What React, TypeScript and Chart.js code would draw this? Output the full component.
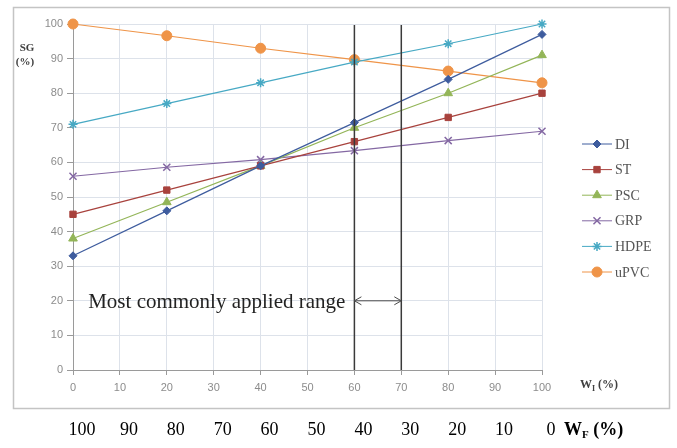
import React, { useEffect, useRef } from 'react';
import { Chart, registerables } from 'chart.js';
import { drawPoint } from 'chart.js/helpers';

Chart.register(...registerables);

const X_VALUES = [0, 20, 40, 60, 80, 100];
const DI = [33, 46, 59, 71.5, 84, 97];
const ST = [45, 52, 59, 66, 73, 80];
const PSC = [38, 48.5, 59, 70, 80, 91];
const GRP = [56, 58.6, 60.8, 63.4, 66.3, 69];
const HDPE = [71, 77, 83, 89, 94.3, 100];
const UPVC = [100, 96.6, 93, 89.7, 86.4, 83];

const SERIES_NAMES = ['DI', 'ST', 'PSC', 'GRP', 'HDPE', 'uPVC'];
const SERIES_VALUES = [DI, ST, PSC, GRP, HDPE, UPVC];
const SERIES_COLORS = ['#3e5c9e', '#a8423d', '#93b558', '#8468a3', '#47a9c4', '#ef9448'];
const POINT_STYLES = ['rectRot', 'rect', 'triangle', 'crossRot', 'star', 'circle'];
const POINT_RADII = [4, 4.5, 5, 5, 4.5, 5];
const POINT_BORDER = [1, 1, 1, 1.5, 1.5, 1];

const WF_LABELS = ['100', '90', '80', '70', '60', '50', '40', '30', '20', '10', '0'];
const RANGE_LINES = [60, 70];
const RANGE_TEXT = 'Most commonly applied range';
const RANGE_Y = 20;
const Y_TITLE = ['SG', '(%)'];
const X_TITLE_MAIN = 'W';
const X_TITLE_SUB = 'I';
const WF_MAIN = 'W';
const WF_SUB = 'F';
const UNIT = ' (%)';

const overlay = {
  id: 'overlay',
  beforeDraw(chart: any) {
    const { ctx, width, height } = chart;
    ctx.save();
    ctx.fillStyle = '#ffffff';
    ctx.fillRect(0, 0, width, height);
    ctx.restore();
  },
  afterDatasetsDraw(chart: any) {
    const { ctx, chartArea } = chart;
    const x = chart.scales.x;
    const y = chart.scales.y;
    ctx.save();
    ctx.strokeStyle = '#3a3a3a';
    ctx.lineWidth = 1.5;
    RANGE_LINES.forEach((v) => {
      const px = x.getPixelForValue(v);
      ctx.beginPath();
      ctx.moveTo(px, chartArea.top + 1);
      ctx.lineTo(px, chartArea.bottom);
      ctx.stroke();
    });
    const ay = y.getPixelForValue(RANGE_Y);
    const a1 = x.getPixelForValue(RANGE_LINES[0]);
    const a2 = x.getPixelForValue(RANGE_LINES[1]);
    ctx.strokeStyle = '#4a4a4a';
    ctx.lineWidth = 1;
    ctx.beginPath();
    ctx.moveTo(a1, ay);
    ctx.lineTo(a2, ay);
    ctx.moveTo(a1 + 7, ay - 4);
    ctx.lineTo(a1, ay);
    ctx.lineTo(a1 + 7, ay + 4);
    ctx.moveTo(a2 - 7, ay - 4);
    ctx.lineTo(a2, ay);
    ctx.lineTo(a2 - 7, ay + 4);
    ctx.stroke();
    ctx.font = '21px "Liberation Serif"';
    ctx.fillStyle = '#222222';
    ctx.textAlign = 'right';
    ctx.textBaseline = 'alphabetic';
    ctx.fillText(RANGE_TEXT, a1 - 9, ay + 7);
    ctx.restore();
  },
  afterDraw(chart: any) {
    const { ctx, chartArea } = chart;
    const x = chart.scales.x;
    ctx.save();
    ctx.strokeStyle = '#c4c4c4';
    ctx.lineWidth = 1.5;
    ctx.strokeRect(13.5, 7.5, 656, 401);

    const lx = chartArea.right + 40;
    chart.data.datasets.forEach((ds: any, i: number) => {
      const ly = 144 + i * 25.6;
      ctx.strokeStyle = ds.borderColor;
      ctx.lineWidth = 1;
      ctx.beginPath();
      ctx.moveTo(lx, ly);
      ctx.lineTo(lx + 30, ly);
      ctx.stroke();
      ctx.fillStyle = ds.backgroundColor;
      ctx.strokeStyle = ds.borderColor;
      ctx.lineWidth = ds.pointBorderWidth;
      drawPoint(ctx, { pointStyle: ds.pointStyle, radius: ds.pointRadius, rotation: 0, borderWidth: ds.pointBorderWidth }, lx + 15, ly);
      ctx.fillStyle = '#555555';
      ctx.font = '14px "Liberation Serif"';
      ctx.textAlign = 'left';
      ctx.textBaseline = 'middle';
      ctx.fillText(ds.label, lx + 33, ly + 1);
    });

    ctx.fillStyle = '#404040';
    ctx.font = 'bold 11px "Liberation Serif"';
    ctx.textAlign = 'center';
    ctx.textBaseline = 'middle';
    ctx.fillText(Y_TITLE[0], 27, 48);
    ctx.fillText(Y_TITLE[1], 25, 62);

    ctx.textAlign = 'left';
    ctx.textBaseline = 'alphabetic';
    let tx = chartArea.right + 38;
    const tb = 388;
    ctx.font = 'bold 12px "Liberation Serif"';
    ctx.fillText(X_TITLE_MAIN, tx, tb);
    tx += ctx.measureText(X_TITLE_MAIN).width;
    ctx.font = 'bold 8px "Liberation Serif"';
    ctx.fillText(X_TITLE_SUB, tx, tb + 3);
    tx += ctx.measureText(X_TITLE_SUB).width;
    ctx.font = 'bold 12px "Liberation Serif"';
    ctx.fillText(UNIT, tx, tb);

    ctx.fillStyle = '#000000';
    ctx.font = '18px "Liberation Serif"';
    ctx.textAlign = 'center';
    const wb = 435;
    WF_LABELS.forEach((lab) => {
      const px = x.getPixelForValue(100 - Number(lab)) + 9;
      ctx.fillText(lab, px, wb);
    });
    ctx.textAlign = 'left';
    let wx = x.getPixelForValue(100) + 9 + 5 + 8;
    ctx.font = 'bold 18px "Liberation Serif"';
    ctx.fillText(WF_MAIN, wx, wb);
    wx += ctx.measureText(WF_MAIN).width;
    ctx.font = 'bold 11px "Liberation Serif"';
    ctx.fillText(WF_SUB, wx, wb + 3);
    wx += ctx.measureText(WF_SUB).width;
    ctx.font = 'bold 18px "Liberation Serif"';
    ctx.fillText(UNIT, wx, wb);
    ctx.restore();
  },
};

export default function App() {
  const ref = useRef<HTMLCanvasElement | null>(null);
  useEffect(() => {
    if (!ref.current) return;
    const datasets = SERIES_NAMES.map((name, i) => ({
      label: name,
      data: X_VALUES.map((xv, j) => ({ x: xv, y: SERIES_VALUES[i][j] })),
      borderColor: SERIES_COLORS[i],
      backgroundColor: SERIES_COLORS[i],
      borderWidth: 1.2,
      pointStyle: POINT_STYLES[i],
      pointRadius: POINT_RADII[i],
      pointBorderWidth: POINT_BORDER[i],
      pointBackgroundColor: SERIES_COLORS[i],
      pointBorderColor: SERIES_COLORS[i],
      fill: false,
      tension: 0,
      clip: false,
    }));
    const tickFont = { family: '"Liberation Sans"', size: 11 };
    const chart = new Chart(ref.current, {
      type: 'line',
      data: { datasets },
      options: {
        animation: false,
        responsive: false,
        maintainAspectRatio: false,
        layout: { padding: { left: 0, right: 135, top: 24, bottom: 0 } },
        plugins: { legend: { display: false }, tooltip: { enabled: false } },
        scales: {
          x: {
            type: 'linear',
            min: 0,
            max: 100,
            ticks: { stepSize: 10, color: '#8c8c8c', font: tickFont, padding: 6 },
            grid: { color: '#dde2ea', tickColor: '#9a9a9a', tickLength: 5 },
            border: { color: '#9a9a9a' },
            afterFit: (s: any) => { s.height = 78; },
          },
          y: {
            type: 'linear',
            min: 0,
            max: 100,
            ticks: { stepSize: 10, color: '#8c8c8c', font: tickFont, padding: 4 },
            grid: { color: '#dde2ea', tickColor: '#9a9a9a', tickLength: 6 },
            border: { color: '#9a9a9a' },
            afterFit: (s: any) => { s.width = 73; },
          },
        },
      } as any,
      plugins: [overlay],
    });
    return () => chart.destroy();
  }, []);
  return (
    <div style={{ position: 'absolute', left: 0, top: 0, width: 677, height: 448, background: '#fff' }}>
      <canvas ref={ref} width={677} height={448} style={{ display: 'block' }} />
    </div>
  );
}
